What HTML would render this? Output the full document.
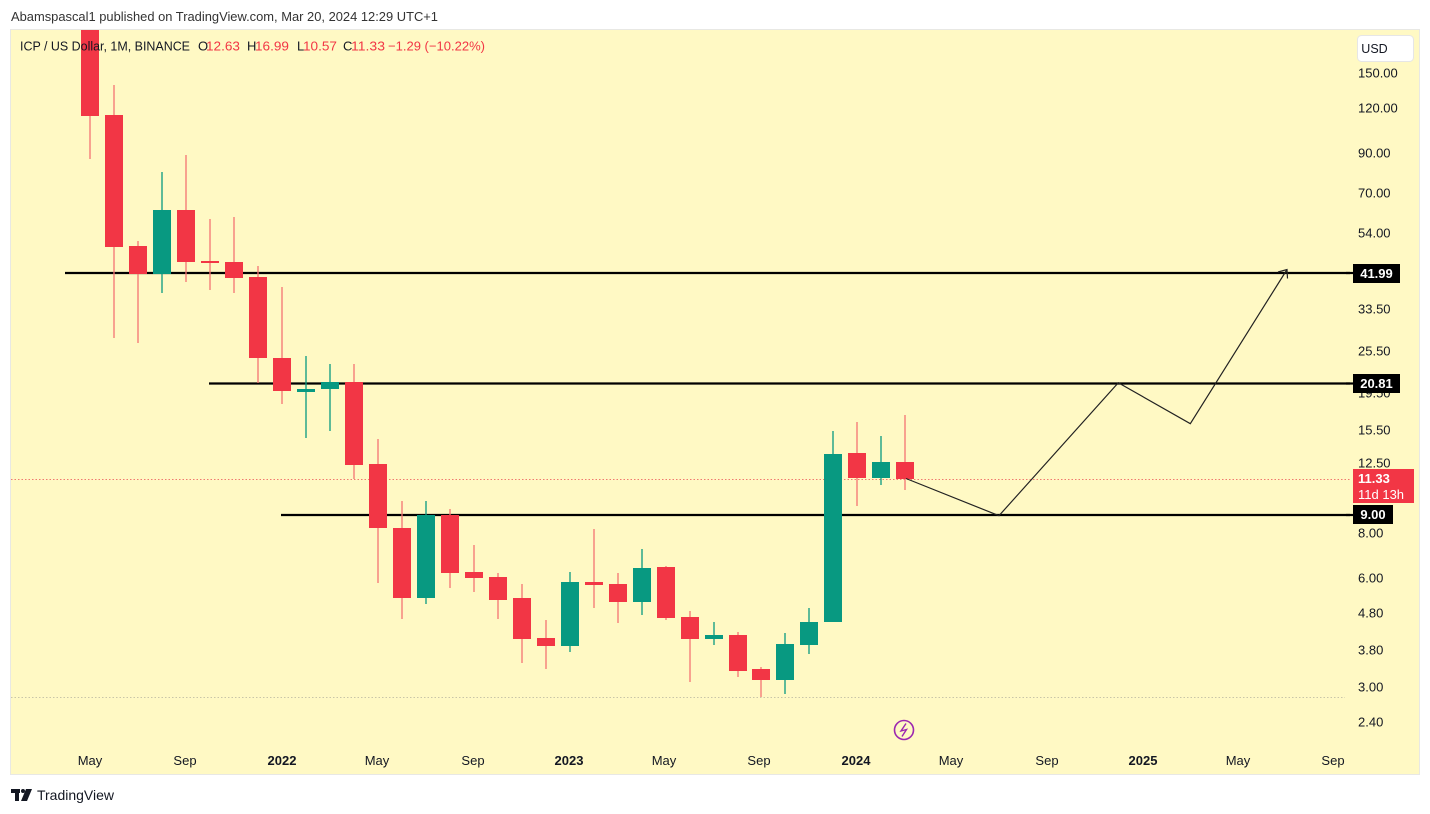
<!DOCTYPE html>
<html><head><meta charset="utf-8"><style>
html,body{margin:0;padding:0;background:#fff;}
svg{display:block;}
text{font-family:"Liberation Sans","DejaVu Sans",sans-serif;}
</style></head><body>
<svg width="1430" height="814" viewBox="0 0 1430 814" xmlns="http://www.w3.org/2000/svg">
<rect x="0" y="0" width="1430" height="814" fill="#ffffff"/>
<text x="11" y="21" font-size="13" fill="#333" textLength="427" lengthAdjust="spacingAndGlyphs">Abamspascal1 published on TradingView.com, Mar 20, 2024 12:29 UTC+1</text>
<rect x="10.5" y="29.5" width="1409" height="745" fill="#fff9c4" stroke="#e8e8e4" stroke-width="1"/>
<defs><clipPath id="c"><rect x="11" y="30" width="1408" height="744"/></clipPath></defs>
<g clip-path="url(#c)">
<line x1="11" y1="479.5" x2="1350" y2="479.5" stroke="#f07a70" stroke-width="1" stroke-dasharray="1.5,2"/>
<line x1="11" y1="697.5" x2="1345" y2="697.5" stroke="#c8c5a8" stroke-width="1" stroke-dasharray="1.5,2"/>
<g stroke="#000" stroke-width="2.2">
<line x1="65" y1="273" x2="1350" y2="273"/>
<line x1="209" y1="383.5" x2="1350" y2="383.5"/>
<line x1="281" y1="515" x2="1350" y2="515"/>
</g>
<g stroke="#f57373" stroke-width="1.3">
<line x1="90" y1="10" x2="90" y2="159"/>
<line x1="114" y1="85" x2="114" y2="338"/>
<line x1="138" y1="241" x2="138" y2="343"/>
<line x1="186" y1="155" x2="186" y2="282"/>
<line x1="210" y1="219" x2="210" y2="290"/>
<line x1="234" y1="217" x2="234" y2="293"/>
<line x1="258" y1="266" x2="258" y2="383"/>
<line x1="282" y1="287" x2="282" y2="404"/>
<line x1="354" y1="364" x2="354" y2="479"/>
<line x1="378" y1="439" x2="378" y2="583"/>
<line x1="402" y1="501" x2="402" y2="619"/>
<line x1="450" y1="509" x2="450" y2="588"/>
<line x1="474" y1="545" x2="474" y2="592"/>
<line x1="498" y1="573" x2="498" y2="619"/>
<line x1="522" y1="584" x2="522" y2="663"/>
<line x1="546" y1="620" x2="546" y2="669"/>
<line x1="594" y1="529" x2="594" y2="608"/>
<line x1="618" y1="573" x2="618" y2="623"/>
<line x1="666" y1="566" x2="666" y2="620"/>
<line x1="690" y1="611" x2="690" y2="682"/>
<line x1="738" y1="632" x2="738" y2="677"/>
<line x1="761" y1="667" x2="761" y2="697"/>
<line x1="857" y1="422" x2="857" y2="506"/>
<line x1="905" y1="415" x2="905" y2="490"/>
</g>
<g stroke="#089981" stroke-width="1.3">
<line x1="162" y1="172" x2="162" y2="293"/>
<line x1="306" y1="356" x2="306" y2="438"/>
<line x1="330" y1="364" x2="330" y2="431"/>
<line x1="426" y1="501" x2="426" y2="604"/>
<line x1="570" y1="572" x2="570" y2="652"/>
<line x1="642" y1="549" x2="642" y2="615"/>
<line x1="714" y1="622" x2="714" y2="645"/>
<line x1="785" y1="633" x2="785" y2="694"/>
<line x1="809" y1="608" x2="809" y2="654"/>
<line x1="833" y1="431" x2="833" y2="622"/>
<line x1="881" y1="436" x2="881" y2="485"/>
</g>
<g fill="#f23645">
<rect x="81" y="20" width="18" height="96"/>
<rect x="105" y="115" width="18" height="132"/>
<rect x="129" y="246" width="18" height="28"/>
<rect x="177" y="210" width="18" height="52"/>
<rect x="201" y="261" width="18" height="2"/>
<rect x="225" y="262" width="18" height="16"/>
<rect x="249" y="277" width="18" height="81"/>
<rect x="273" y="358" width="18" height="33"/>
<rect x="345" y="382" width="18" height="83"/>
<rect x="369" y="464" width="18" height="64"/>
<rect x="393" y="528" width="18" height="70"/>
<rect x="441" y="515" width="18" height="58"/>
<rect x="465" y="572" width="18" height="6"/>
<rect x="489" y="577" width="18" height="23"/>
<rect x="513" y="598" width="18" height="41"/>
<rect x="537" y="638" width="18" height="8"/>
<rect x="585" y="582" width="18" height="3"/>
<rect x="609" y="584" width="18" height="18"/>
<rect x="657" y="567" width="18" height="51"/>
<rect x="681" y="617" width="18" height="22"/>
<rect x="729" y="635" width="18" height="36"/>
<rect x="752" y="669" width="18" height="11"/>
<rect x="848" y="453" width="18" height="25"/>
<rect x="896" y="462" width="18" height="17"/>
</g>
<g fill="#089981">
<rect x="153" y="210" width="18" height="64"/>
<rect x="297" y="389" width="18" height="3"/>
<rect x="321" y="382" width="18" height="7"/>
<rect x="417" y="515" width="18" height="83"/>
<rect x="561" y="582" width="18" height="64"/>
<rect x="633" y="568" width="18" height="34"/>
<rect x="705" y="635" width="18" height="4"/>
<rect x="776" y="644" width="18" height="36"/>
<rect x="800" y="622" width="18" height="23"/>
<rect x="824" y="454" width="18" height="168"/>
<rect x="872" y="462" width="18" height="16"/>
</g>
</g>
<polyline points="906,478.5 999,515.7 1118.3,382.7 1190.3,423.7 1286.7,270" fill="none" stroke="#222" stroke-width="1.2"/>
<polyline points="1278,272 1287,269.5 1287.5,278.5" fill="none" stroke="#222" stroke-width="1.2"/>
<text x="20" y="50.5" font-size="13" fill="#131722" textLength="170" lengthAdjust="spacingAndGlyphs">ICP / US Dollar, 1M, BINANCE</text>
<g font-size="13">
<text x="198" y="50.5" fill="#131722">O</text><text x="206" y="50.5" fill="#f23645" textLength="34" lengthAdjust="spacingAndGlyphs">12.63</text>
<text x="247" y="50.5" fill="#131722">H</text><text x="255" y="50.5" fill="#f23645" textLength="34" lengthAdjust="spacingAndGlyphs">16.99</text>
<text x="297" y="50.5" fill="#131722">L</text><text x="303" y="50.5" fill="#f23645" textLength="34" lengthAdjust="spacingAndGlyphs">10.57</text>
<text x="343" y="50.5" fill="#131722">C</text><text x="351" y="50.5" fill="#f23645" textLength="34" lengthAdjust="spacingAndGlyphs">11.33</text>
<text x="388" y="50.5" fill="#f23645" textLength="97" lengthAdjust="spacingAndGlyphs">−1.29 (−10.22%)</text>
</g>
<rect x="1357.5" y="35.5" width="56" height="26" rx="4" fill="#fff" stroke="#e6e6e6"/>
<text x="1374.5" y="53" font-size="12.5" fill="#131722" text-anchor="middle">USD</text>
<g font-size="13" fill="#131722">
<text x="1358" y="77.5">150.00</text>
<text x="1358" y="112.5">120.00</text>
<text x="1358" y="157.5">90.00</text>
<text x="1358" y="197.5">70.00</text>
<text x="1358" y="237.5">54.00</text>
<text x="1358" y="313.5">33.50</text>
<text x="1358" y="355.5">25.50</text>
<text x="1358" y="397.5">19.50</text>
<text x="1358" y="434.5">15.50</text>
<text x="1358" y="467.5">12.50</text>
<text x="1358" y="537.5">8.00</text>
<text x="1358" y="582.5">6.00</text>
<text x="1358" y="617.5">4.80</text>
<text x="1358" y="654.5">3.80</text>
<text x="1358" y="691.5">3.00</text>
<text x="1358" y="726.5">2.40</text>
</g>
<line x1="1346" y1="273" x2="1353" y2="273" stroke="#000" stroke-width="2.2"/>
<line x1="1346" y1="383.5" x2="1353" y2="383.5" stroke="#000" stroke-width="2.2"/>
<line x1="1346" y1="515" x2="1353" y2="515" stroke="#000" stroke-width="2.2"/>
<rect x="1353" y="264" width="47" height="19" fill="#000"/>
<text x="1376.5" y="278" font-size="13" font-weight="bold" fill="#fff" text-anchor="middle">41.99</text>
<rect x="1353" y="374" width="47" height="19" fill="#000"/>
<text x="1376.5" y="388" font-size="13" font-weight="bold" fill="#fff" text-anchor="middle">20.81</text>
<rect x="1353" y="469" width="61" height="34" fill="#f23645"/>
<text x="1358" y="483" font-size="13" font-weight="bold" fill="#fff">11.33</text>
<text x="1358" y="499" font-size="13" fill="#fff">11d 13h</text>
<rect x="1353" y="505" width="40" height="19" fill="#000"/>
<text x="1373" y="519" font-size="13" font-weight="bold" fill="#fff" text-anchor="middle">9.00</text>
<g font-size="13" fill="#131722" text-anchor="middle">
<text x="90" y="765">May</text>
<text x="185" y="765">Sep</text>
<text x="282" y="765" font-weight="bold">2022</text>
<text x="377" y="765">May</text>
<text x="473" y="765">Sep</text>
<text x="569" y="765" font-weight="bold">2023</text>
<text x="664" y="765">May</text>
<text x="759" y="765">Sep</text>
<text x="856" y="765" font-weight="bold">2024</text>
<text x="951" y="765">May</text>
<text x="1047" y="765">Sep</text>
<text x="1143" y="765" font-weight="bold">2025</text>
<text x="1238" y="765">May</text>
<text x="1333" y="765">Sep</text>
</g>
<circle cx="904" cy="730" r="9.5" fill="#fff9c4" stroke="#9c27b0" stroke-width="1.6"/>
<polyline points="906,723.5 901,731 906.5,729.5 902,736.5" fill="none" stroke="#9c27b0" stroke-width="1.4"/>
<g fill="#131722">
<rect x="11" y="789" width="9" height="4"/>
<rect x="15" y="789" width="4" height="12"/>
<circle cx="23" cy="791" r="2"/>
<polygon points="26,789 32,789 27,801 21,801"/>
</g>
<text x="37" y="800" font-size="14" fill="#131722" textLength="77" lengthAdjust="spacingAndGlyphs">TradingView</text>
</svg>
</body></html>
